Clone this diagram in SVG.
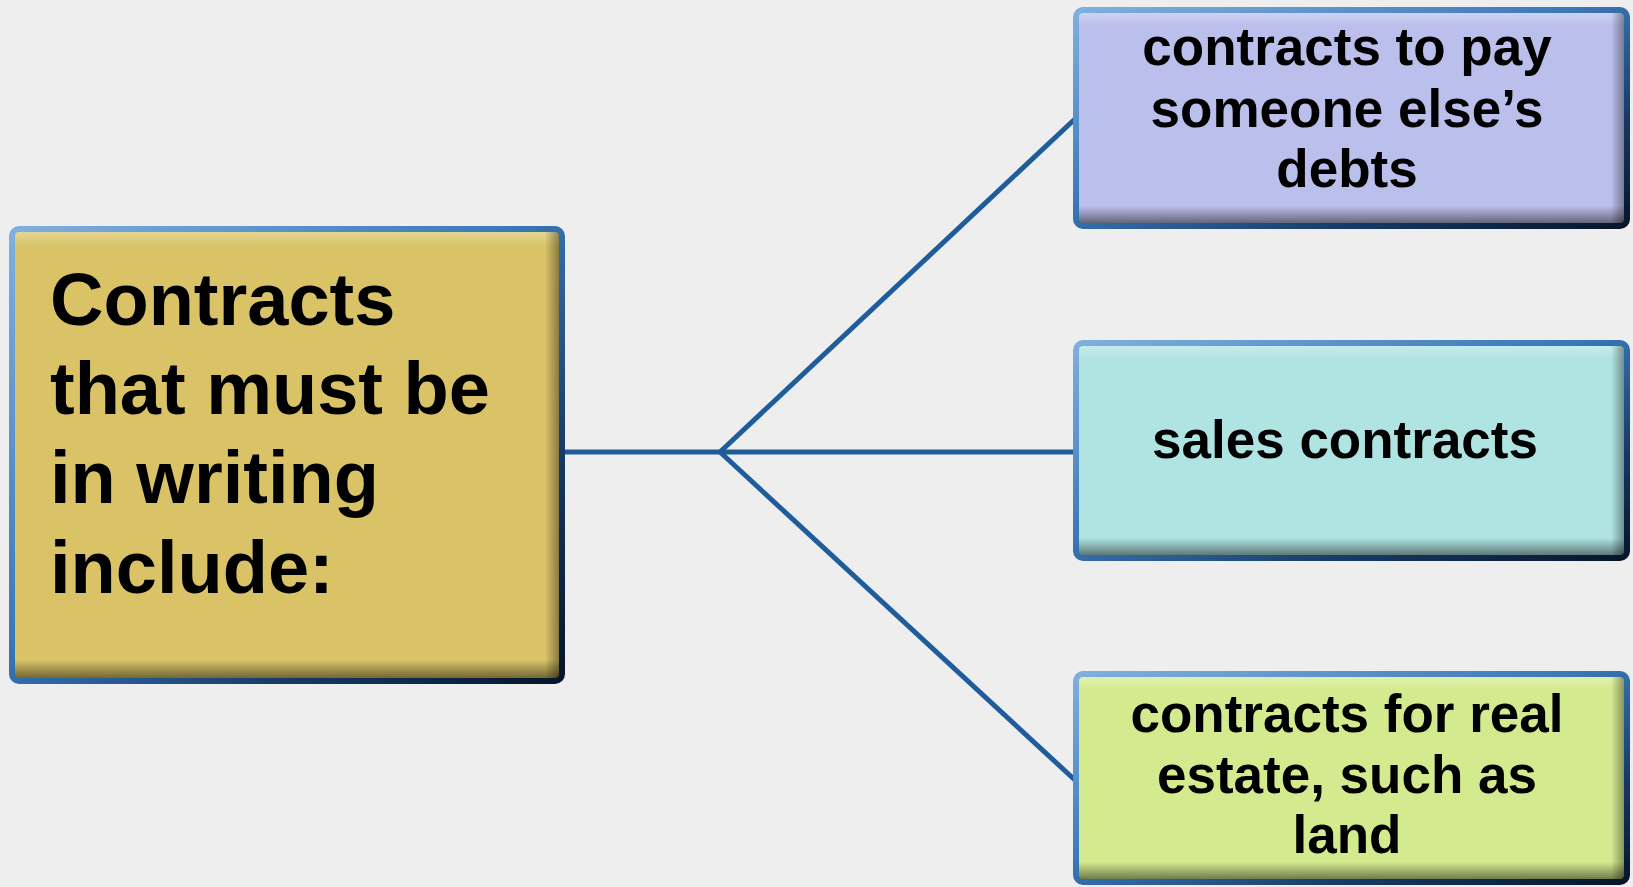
<svg xmlns="http://www.w3.org/2000/svg" width="1633" height="887" viewBox="0 0 1633 887">
<defs>
<linearGradient id="edge" x1="0" y1="0" x2="1" y2="1">
<stop offset="0" stop-color="#7fb0de"/>
<stop offset="0.45" stop-color="#3a78b8"/>
<stop offset="0.75" stop-color="#163a66"/>
<stop offset="1" stop-color="#06152a"/>
</linearGradient>
<linearGradient id="shadeB" x1="0" y1="0" x2="0" y2="1">
<stop offset="0" stop-color="#000" stop-opacity="0"/>
<stop offset="1" stop-color="#000" stop-opacity="0.55"/>
</linearGradient>
<linearGradient id="shadeR" x1="0" y1="0" x2="1" y2="0">
<stop offset="0" stop-color="#000" stop-opacity="0"/>
<stop offset="1" stop-color="#000" stop-opacity="0.45"/>
</linearGradient>
<linearGradient id="shadeT" x1="0" y1="0" x2="0" y2="1">
<stop offset="0" stop-color="#fff" stop-opacity="0.35"/>
<stop offset="1" stop-color="#fff" stop-opacity="0"/>
</linearGradient>
</defs>
<style>
.bg{fill:#eeeeee}
.edge{fill:none;stroke:url(#edge);stroke-width:6}
.conn{fill:none;stroke:#1f5c9c;stroke-width:5;stroke-linecap:butt;stroke-linejoin:round}
.t{font-family:"Liberation Sans",Arial,sans-serif;font-weight:bold;fill:#000}
.big{font-size:74px}
.sm{font-size:53px;text-anchor:middle}
</style>
<rect class="bg" x="0" y="0" width="1633" height="887"/>
<g id="connectors">
<polyline class="conn" points="562,452 720,452 1076,452"/>
<line class="conn" x1="720" y1="452" x2="1076" y2="118"/>
<line class="conn" x1="720" y1="452" x2="1076" y2="781"/>
</g>
<g id="main">
<rect x="12" y="229" width="550" height="452" rx="7" fill="#d9c366"/>
<rect x="12" y="229" width="550" height="18" fill="url(#shadeT)"/>
<rect x="12" y="660" width="550" height="21" fill="url(#shadeB)"/>
<rect x="545" y="229" width="17" height="452" fill="url(#shadeR)"/>
<rect class="edge" x="12" y="229" width="550" height="452" rx="7"/>
<text class="t big" x="50" y="325">Contracts</text>
<text class="t big" x="50" y="414">that must be</text>
<text class="t big" x="50" y="503">in writing</text>
<text class="t big" x="50" y="593">include:</text>
</g>
<g id="debts">
<rect x="1076" y="10" width="551" height="216" rx="7" fill="#bbbfeb"/>
<rect x="1076" y="10" width="551" height="16" fill="url(#shadeT)"/>
<rect x="1076" y="206" width="551" height="20" fill="url(#shadeB)"/>
<rect x="1611" y="10" width="16" height="216" fill="url(#shadeR)"/>
<rect class="edge" x="1076" y="10" width="551" height="216" rx="7"/>
<text class="t sm" x="1347" y="65">contracts to pay</text>
<text class="t sm" x="1347" y="127">someone else’s</text>
<text class="t sm" x="1347" y="187">debts</text>
</g>
<g id="sales">
<rect x="1076" y="343" width="551" height="215" rx="7" fill="#afe4e2"/>
<rect x="1076" y="343" width="551" height="16" fill="url(#shadeT)"/>
<rect x="1076" y="538" width="551" height="20" fill="url(#shadeB)"/>
<rect x="1611" y="343" width="16" height="215" fill="url(#shadeR)"/>
<rect class="edge" x="1076" y="343" width="551" height="215" rx="7"/>
<text class="t sm" x="1345" y="458">sales contracts</text>
</g>
<g id="realestate">
<rect x="1076" y="674" width="551" height="208" rx="7" fill="#d4ea8e"/>
<rect x="1076" y="674" width="551" height="16" fill="url(#shadeT)"/>
<rect x="1076" y="862" width="551" height="20" fill="url(#shadeB)"/>
<rect x="1611" y="674" width="16" height="208" fill="url(#shadeR)"/>
<rect class="edge" x="1076" y="674" width="551" height="208" rx="7"/>
<text class="t sm" x="1347" y="732">contracts for real</text>
<text class="t sm" x="1347" y="793">estate, such as</text>
<text class="t sm" x="1347" y="853">land</text>
</g>
</svg>
